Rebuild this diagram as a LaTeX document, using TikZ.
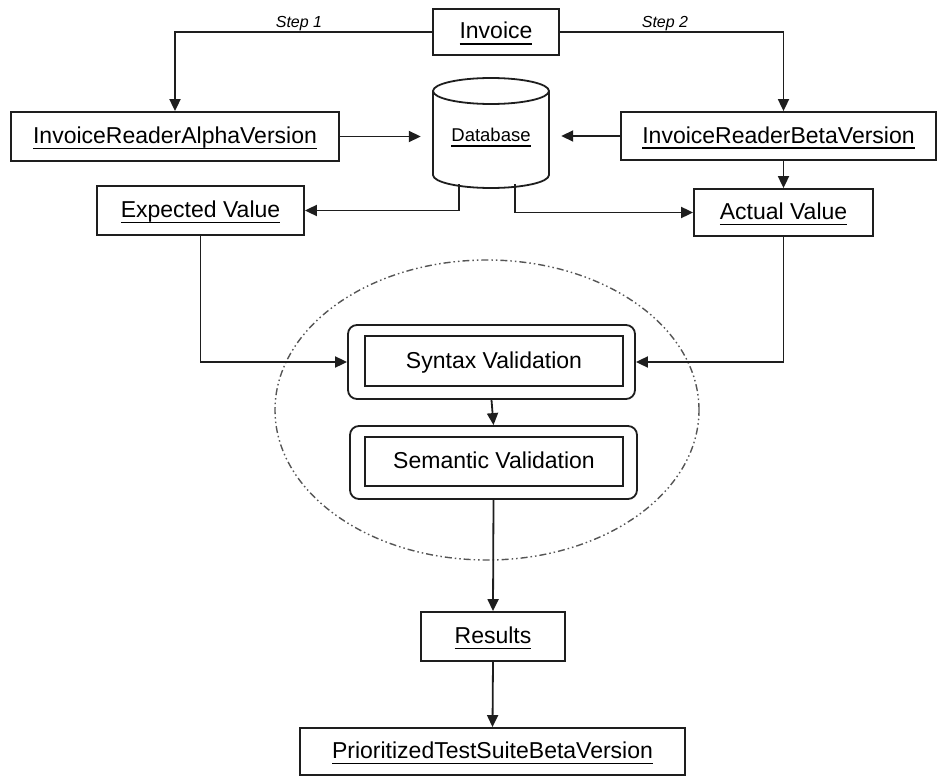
\documentclass[tikz,border=0pt]{standalone}
\usepackage{fontspec}
\setmainfont{Liberation Sans}
\newfontfamily\serifg{Liberation Serif}
\usetikzlibrary{arrows.meta}
\definecolor{ln}{HTML}{1E1E1E}
\definecolor{grp}{HTML}{555555}
\newcommand{\ulx}[1]{\setbox0\hbox{#1}\rlap{\rule[-5.6pt]{\wd0}{1.4pt}}\box0}
\begin{document}
\begin{tikzpicture}[x=1pt,y=-1pt,
  box/.style={draw=ln, line width=1.8pt, inner sep=0pt,
    font=\fontsize{23}{26}\selectfont, text height=16pt, text depth=2pt},
  outerbox/.style={draw=ln, line width=1.8pt, rounded corners=9pt, inner sep=0pt},
  steplbl/.style={font=\itshape\fontsize{16}{18}\selectfont, anchor=base, inner sep=0pt},
  arr/.style={draw=ln, line width=1.8pt, -{Triangle[length=12pt,width=11pt]}},
  dbline/.style={draw=ln, line width=1.8pt},
  grpline/.style={draw=grp, line width=1.4pt,
    dash pattern=on 7pt off 3pt on 1.5pt off 3pt on 1.5pt off 3pt}]
\useasboundingbox (0,0) rectangle (938,776);

% clipped header fragment
\begin{scope}
\clip (0,0) rectangle (938,776);
\node[font=\serifg\bfseries\fontsize{22}{24}\selectfont, anchor=base, inner sep=0pt] (gfrag) at (852,-5) {g};
\end{scope}

% group ellipse
\draw[grpline] (487,410) ellipse [x radius=212pt, y radius=150pt];

% boxes
\node[box, minimum width=126pt, minimum height=46pt] (inv) at (496,32) {\ulx{Invoice}};
\node[box, minimum width=328pt, minimum height=49pt] (alpha) at (175,136.5) {\ulx{InvoiceReaderAlphaVersion}};
\node[box, minimum width=315pt, minimum height=48pt] (beta) at (778.5,136) {\ulx{InvoiceReaderBetaVersion}};
\node[box, minimum width=207pt, minimum height=49pt] (exp) at (200.5,210.5) {\ulx{Expected Value}};
\node[box, minimum width=179pt, minimum height=47pt] (act) at (783.5,212.5) {\ulx{Actual Value}};

% database cylinder
\draw[dbline] (491,91) ellipse [x radius=58pt, y radius=13pt];
\draw[dbline] (433,91) -- (433,175) arc[start angle=180, end angle=360, x radius=58pt, y radius=13pt] -- (549,91);
\node[font=\fontsize{18.5}{20}\selectfont, minimum width=140pt, minimum height=60pt, inner sep=0pt,
  text height=13pt, text depth=2pt] (db) at (491,135.5) {\ulx{Database}};
\coordinate (dbL) at (459,184);
\coordinate (dbR) at (515,184);

% validation
\node[outerbox, minimum width=287pt, minimum height=74pt] (synO) at (491.5,362) {};
\node[box, minimum width=258pt, minimum height=50pt] (syn) at (494,361) {Syntax Validation};
\node[outerbox, minimum width=287pt, minimum height=73pt] (semO) at (493.5,462.5) {};
\node[box, minimum width=258pt, minimum height=49pt] (sem) at (494,461.5) {Semantic Validation};

\node[box, minimum width=144pt, minimum height=49pt] (res) at (493,636.5) {\ulx{Results}};
\node[box, minimum width=385pt, minimum height=47pt] (prio) at (492.5,751.5) {\ulx{PrioritizedTestSuiteBetaVersion}};

% step labels
\node[steplbl] (s1) at (299,27.5) {Step 1};
\node[steplbl] (s2) at (665,27.5) {Step 2};

% connectors
\draw[arr] (inv.west) -| (alpha.north);
\draw[arr] (inv.east) -| (beta.north -| act.north);
\draw[arr] (alpha.east) -- (alpha.east -| db.west);
\draw[arr] (beta.west) -- (beta.west -| db.east);
\draw[arr] (act.north |- beta.south) -- (act.north);
\draw[arr] (dbL) |- (exp.east);
\draw[arr] (dbR) |- (act.west);
\draw[arr] (exp.south) |- (synO.west);
\draw[arr] (act.south) |- (synO.east);
\draw[arr] (synO.south) -- (semO.north);
\draw[arr] (semO.south) -- (res.north);
\draw[arr] (res.south) -- (prio.north);
\end{tikzpicture}
\end{document}
